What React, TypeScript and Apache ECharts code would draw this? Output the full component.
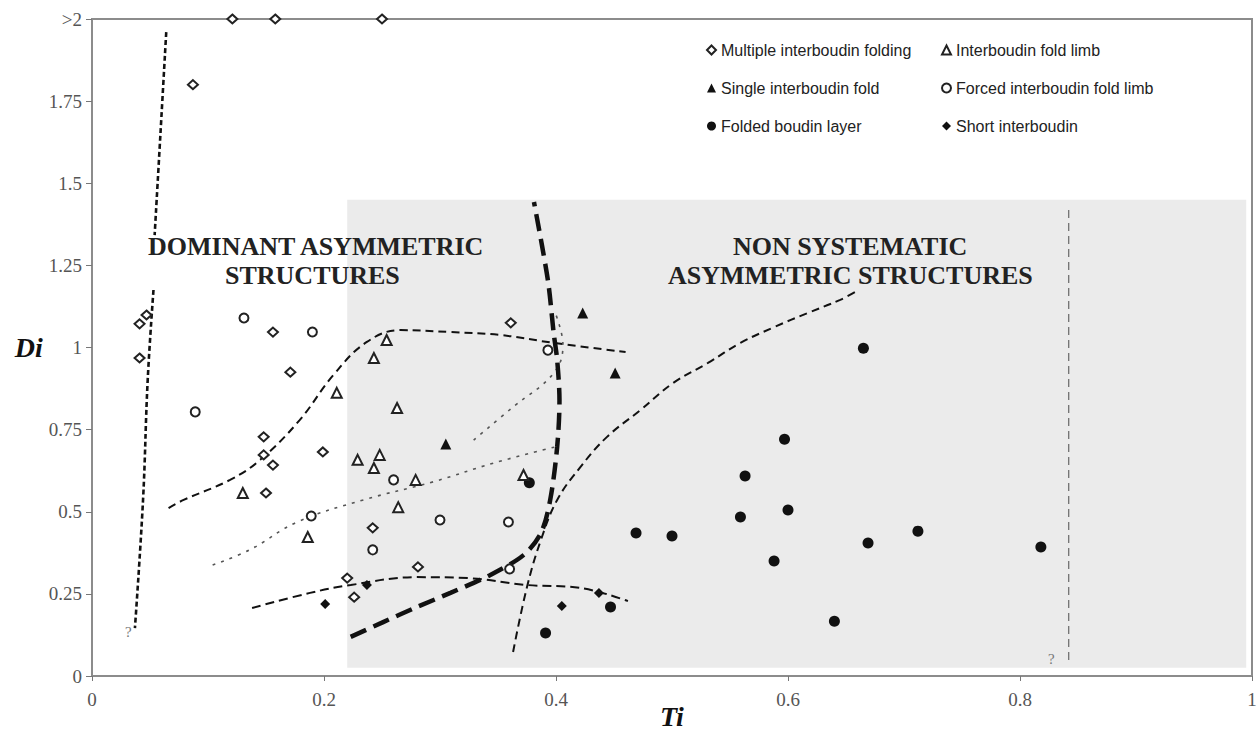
import React, { useEffect, useRef } from "react";
import * as echarts from "echarts";

// ---- Data (Ti, Di) ----
const multipleFolding = [
  [0.121, 2.0], [0.158, 2.0], [0.25, 2.0], [0.087, 1.8],
  [0.041, 1.072], [0.047, 1.099], [0.041, 0.968], [0.156, 1.047], [0.171, 0.925],
  [0.148, 0.728], [0.148, 0.673], [0.156, 0.642], [0.199, 0.682], [0.15, 0.557],
  [0.242, 0.451], [0.281, 0.332], [0.22, 0.298], [0.226, 0.24], [0.361, 1.075],
];
const foldLimb = [
  [0.243, 0.968], [0.211, 0.862], [0.263, 0.816], [0.254, 1.023], [0.229, 0.658],
  [0.248, 0.673], [0.243, 0.633], [0.279, 0.597], [0.13, 0.557], [0.186, 0.423],
  [0.264, 0.514], [0.372, 0.612],
];
const singleFold = [[0.305, 0.706], [0.423, 1.105], [0.451, 0.922]];
const forcedLimb = [
  [0.131, 1.09], [0.19, 1.047], [0.089, 0.804], [0.26, 0.597], [0.189, 0.487],
  [0.242, 0.384], [0.3, 0.475], [0.393, 0.992], [0.359, 0.469], [0.36, 0.326],
];
const foldedLayer = [
  [0.377, 0.588], [0.665, 0.998], [0.597, 0.721], [0.563, 0.609], [0.559, 0.484],
  [0.6, 0.505], [0.469, 0.435], [0.5, 0.426], [0.669, 0.405], [0.712, 0.441],
  [0.588, 0.35], [0.64, 0.167], [0.447, 0.21], [0.391, 0.131], [0.818, 0.393],
];
const shortInterboudin = [[0.201, 0.219], [0.237, 0.277], [0.405, 0.213], [0.437, 0.253]];

// ---- Interpretive curves ----
const leftLineUpper = [[0.064, 1.96], [0.059, 1.65], [0.054, 1.342]];
const leftLineLower = [[0.053, 1.175], [0.048, 0.9], [0.044, 0.536], [0.037, 0.146]];
const upperEnvelope = [
  [0.066, 0.511], [0.079, 0.536], [0.119, 0.597], [0.145, 0.658], [0.179, 0.779],
  [0.208, 0.916], [0.237, 1.017], [0.266, 1.053], [0.309, 1.047], [0.352, 1.038],
  [0.398, 1.014], [0.46, 0.986],
];
const dottedUpper = [[0.329, 0.718], [0.363, 0.819], [0.398, 0.922], [0.406, 1.008], [0.4, 1.099]];
const dottedLower = [
  [0.104, 0.338], [0.136, 0.384], [0.177, 0.469], [0.234, 0.536], [0.294, 0.591],
  [0.346, 0.648], [0.399, 0.697],
];
const lowerDashed = [
  [0.138, 0.207], [0.188, 0.253], [0.223, 0.277], [0.28, 0.301], [0.324, 0.298],
  [0.375, 0.277], [0.421, 0.268], [0.462, 0.228],
];
const boundary = [
  [0.223, 0.119], [0.251, 0.164], [0.28, 0.21], [0.309, 0.253], [0.343, 0.307],
  [0.372, 0.368], [0.387, 0.435], [0.395, 0.536], [0.401, 0.697], [0.403, 0.84],
  [0.401, 0.962], [0.398, 1.044], [0.393, 1.205], [0.381, 1.443],
];
const rightCurve = [
  [0.363, 0.073], [0.375, 0.271], [0.387, 0.414], [0.401, 0.536], [0.421, 0.636],
  [0.444, 0.728], [0.473, 0.81], [0.501, 0.892], [0.531, 0.953], [0.559, 1.014],
  [0.588, 1.062], [0.617, 1.105], [0.645, 1.145], [0.658, 1.169],
];
const verticalLine = [[0.842, 0.049], [0.842, 1.419]];
const shadedArea = [[0.22, 0.025], [0.995, 1.45]];

const yTickLabels = ["0", "0.25", "0.5", "0.75", "1", "1.25", "1.5", "1.75", ">2"];
const xTickLabels = ["0", "0.2", "0.4", "0.6", "0.8", "1"];

const SERIF = "'Liberation Serif', 'DejaVu Serif', serif";
const SANS = "'Liberation Sans', Arial, sans-serif";

function curve(data: number[][], width: number, dash: number[], color = "#111", smooth: number | boolean = 0.4) {
  return {
    type: "line",
    data,
    smooth,
    symbol: "none",
    silent: true,
    z: 3,
    lineStyle: { color, width, type: dash },
  };
}

export default function App() {
  const ref = useRef<HTMLDivElement>(null);
  useEffect(() => {
    if (!ref.current) return;
    const chart = echarts.init(ref.current, null, { renderer: "svg" });
    const open = { color: "#222", borderWidth: 1.4, opacity: 1 };
    const filled = { color: "#111", opacity: 1 };
    const legendText = { fontFamily: SANS, fontSize: 16, color: "#222" };
    const bigLabel = { fontFamily: SERIF, fontSize: 28, fontStyle: "italic", fontWeight: "bold", color: "#111" };
    const anno = `bold 26px ${SERIF}`;
    chart.setOption({
      animation: false,
      backgroundColor: "#fff",
      grid: {
        left: 92, right: 6, top: 19, bottom: 65,
        containLabel: false, outerBoundsMode: "none",
        show: true, borderColor: "#8c8c8c", borderWidth: 2, backgroundColor: "transparent",
      },
      legend: [
        {
          data: ["Multiple interboudin folding", "Single interboudin fold", "Folded boudin layer"],
          orient: "vertical", left: 701, top: 37, itemWidth: 9, itemHeight: 9, itemGap: 22,
          textStyle: legendText,
        },
        {
          data: ["Interboudin fold limb", "Forced interboudin fold limb", "Short interboudin"],
          orient: "vertical", left: 936, top: 37, itemWidth: 9, itemHeight: 9, itemGap: 22,
          textStyle: legendText,
        },
      ],
      xAxis: {
        type: "value", min: 0, max: 1, interval: 0.2,
        axisLine: { show: true, lineStyle: { color: "#8c8c8c", width: 2 } },
        axisTick: { show: true, length: 5, lineStyle: { color: "#777" } },
        axisLabel: {
          fontFamily: SERIF, fontSize: 19, color: "#555", margin: 14,
          formatter: (v: number) => xTickLabels[Math.round(v / 0.2)] ?? "",
        },
        splitLine: { show: false },
      },
      yAxis: {
        type: "value", min: 0, max: 2, interval: 0.25,
        name: "Di", nameLocation: "middle", nameGap: 47, nameRotate: 0,
        nameTextStyle: { ...bigLabel, padding: [8, 0, 0, 0] },
        axisLine: { show: true, lineStyle: { color: "#8c8c8c", width: 2 } },
        axisTick: { show: true, length: 6, lineStyle: { color: "#777" } },
        axisLabel: {
          fontFamily: SERIF, fontSize: 19, color: "#555", margin: 10,
          formatter: (v: number) => yTickLabels[Math.round(v / 0.25)] ?? "",
        },
        splitLine: { show: false },
      },
      series: [
        {
          type: "line", data: [], silent: true, z: 0,
          markArea: {
            silent: true,
            itemStyle: { color: "#ebebeb" },
            data: [[{ coord: shadedArea[0] }, { coord: shadedArea[1] }]],
          },
        },
        curve(verticalLine, 1.2, [8, 5], "#666", false),
        curve(leftLineUpper, 2.6, [5, 3], "#111"),
        curve(leftLineLower, 2.6, [5, 3], "#111"),
        curve(upperEnvelope, 2, [8, 5], "#111"),
        curve(dottedUpper, 1.6, [3, 6], "#555"),
        curve(dottedLower, 1.6, [3, 6], "#555"),
        curve(lowerDashed, 2, [9, 5], "#111"),
        curve(rightCurve, 2, [8, 5], "#111"),
        curve(boundary, 4.5, [17, 8], "#111", 0.3),
        {
          name: "Multiple interboudin folding", type: "scatter", data: multipleFolding, z: 5,
          symbol: "emptyDiamond", symbolSize: [10, 9], itemStyle: open,
        },
        {
          name: "Single interboudin fold", type: "scatter", data: singleFold, z: 5,
          symbol: "triangle", symbolSize: 11, itemStyle: filled,
        },
        {
          name: "Folded boudin layer", type: "scatter", data: foldedLayer, z: 5,
          symbol: "circle", symbolSize: 11, itemStyle: filled,
        },
        {
          name: "Interboudin fold limb", type: "scatter", data: foldLimb, z: 5,
          symbol: "emptyTriangle", symbolSize: 10, itemStyle: open,
        },
        {
          name: "Forced interboudin fold limb", type: "scatter", data: forcedLimb, z: 5,
          symbol: "emptyCircle", symbolSize: 9, itemStyle: open,
        },
        {
          name: "Short interboudin", type: "scatter", data: shortInterboudin, z: 5,
          symbol: "diamond", symbolSize: 10, itemStyle: filled,
        },
      ],
      graphic: [
        { type: "text", z: 100, left: 148, top: 233, style: { text: "DOMINANT ASYMMETRIC", font: anno, fill: "#222" } },
        { type: "text", z: 100, left: 225, top: 262, style: { text: "STRUCTURES", font: anno, fill: "#222" } },
        { type: "text", z: 100, left: 733, top: 233, style: { text: "NON SYSTEMATIC", font: anno, fill: "#222" } },
        { type: "text", z: 100, left: 668, top: 262, style: { text: "ASYMMETRIC STRUCTURES", font: anno, fill: "#222" } },
        { type: "text", z: 100, left: 125, top: 624, style: { text: "?", font: `15px ${SERIF}`, fill: "#777" } },
        { type: "text", z: 100, left: 1048, top: 651, style: { text: "?", font: `15px ${SERIF}`, fill: "#777" } },
        { type: "text", z: 100, left: 660, top: 702, style: { text: "Ti", font: `italic bold 28px ${SERIF}`, fill: "#111" } },
      ],
    });
    return () => chart.dispose();
  }, []);
  return <div ref={ref} style={{ position: "fixed", left: 0, top: 0, width: 1258, height: 741 }} />;
}
